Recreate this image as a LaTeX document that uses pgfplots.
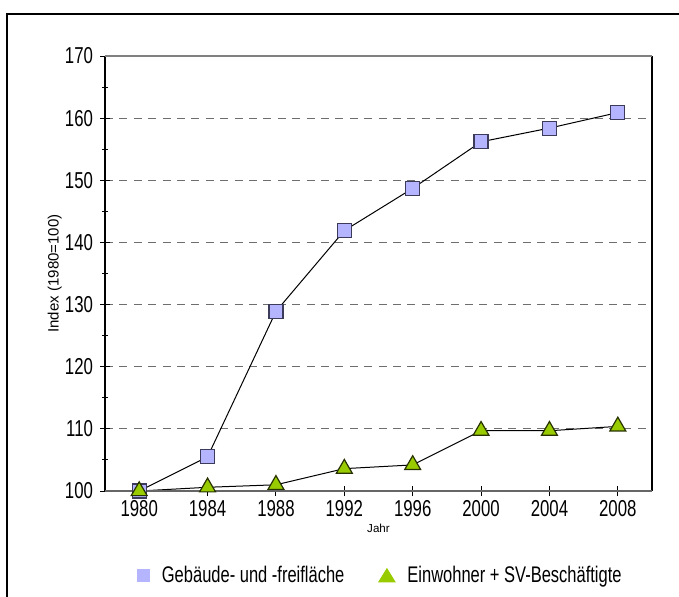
\documentclass[border=0pt]{standalone}
\usepackage{pgfplots}
\pgfplotsset{compat=1.18}
\usepackage{fontspec}
\setmainfont{Liberation Sans}
\newfontfamily\narrowf[FakeStretch=0.73]{Liberation Sans}
\definecolor{sqfill}{RGB}{180,180,255}
\definecolor{sqdraw}{RGB}{60,60,90}
\definecolor{trfill}{RGB}{153,204,0}
\definecolor{trdraw}{RGB}{40,50,0}
\definecolor{gridc}{RGB}{110,110,110}
\begin{document}
\begin{tikzpicture}
\path[use as bounding box] (0,0) rectangle (339.5pt,298pt);
\clip (0,0) rectangle (339.5pt,298pt);
\draw[line width=1pt] (3.5pt,-5pt) -- (3.5pt,291pt) -- (345pt,291pt);
\begin{axis}[
  at={(52.5pt,52.5pt)}, anchor=south west,
  scale only axis, width=273.5pt, height=217.5pt,
  xmin=1978, xmax=2010, ymin=100, ymax=170,
  xtick={1980,1984,...,2008},
  ytick={100,110,...,170},
  minor ytick={105,115,...,165},
  xtick pos=bottom, ytick pos=left,
  /pgf/number format/1000 sep={},
  /pgf/number format/assume math mode=true,
  ticklabel style={font=\narrowf\fontsize{11.5}{13}\selectfont},
  xticklabel style={yshift=1.5pt},
  tick align=center,
  major tick length=5pt,
  minor tick length=3pt,
  tick style={black, line width=0.5pt},
  axis line style={draw=none},
  ymajorgrids,
  major grid style={gridc, dash pattern=on 4pt off 3.2pt, line width=0.6pt},
  xlabel={Jahr},
  xlabel style={font=\fontsize{5.8}{6}\selectfont, at={(axis description cs:0.5,-0.086)}, anchor=center},
  ylabel={Index (1980=100)},
  ylabel style={font=\fontsize{7.5}{9}\selectfont, at={(axis description cs:-0.092,0.5)}, anchor=center},
  legend columns=2,
  legend style={at={(axis description cs:0.505,-0.195)}, anchor=center, draw=none, fill=none,
    font=\narrowf\fontsize{11.3}{13}\selectfont,
    /tikz/every odd column/.append style={column sep=4pt},
    /tikz/every even column/.append style={column sep=15pt}},
  clip=false,
]
\addplot[black, line width=0.5pt, mark=square*, mark size=3.5pt,
  mark options={fill=sqfill, draw=sqdraw, line width=0.6pt},
  legend image code/.code={\fill[sqfill] (0pt,-3pt) rectangle (6pt,3pt);}]
  coordinates {(1980,100) (1984,105.5) (1988,128.9) (1992,141.9) (1996,148.7) (2000,156.2) (2004,158.4) (2008,160.9)};
\addlegendentry{Gebäude- und -freifläche}
\addplot[black, line width=0.5pt, mark=triangle*, mark size=4.6pt,
  mark options={fill=trfill, draw=trdraw, line width=0.6pt},
  legend image code/.code={\fill[trfill] (0pt,-3pt) -- (8pt,-3pt) -- (4pt,3.5pt) -- cycle;}]
  coordinates {(1980,100) (1984,100.6) (1988,101) (1992,103.6) (1996,104.2) (2000,109.7) (2004,109.7) (2008,110.4)};
\addlegendentry{Einwohner + SV-Beschäftigte}
\draw[black, line width=0.7pt] (rel axis cs:0,0) -- (rel axis cs:0,1);
\draw[black, line width=0.7pt] (rel axis cs:1,0) -- (rel axis cs:1,1);
\draw[gray, line width=0.8pt] (rel axis cs:0,1) -- (rel axis cs:1,1);
\draw[gray!80!black, line width=0.8pt] (rel axis cs:0,0) -- (rel axis cs:1,0);
\end{axis}
\end{tikzpicture}
\end{document}
